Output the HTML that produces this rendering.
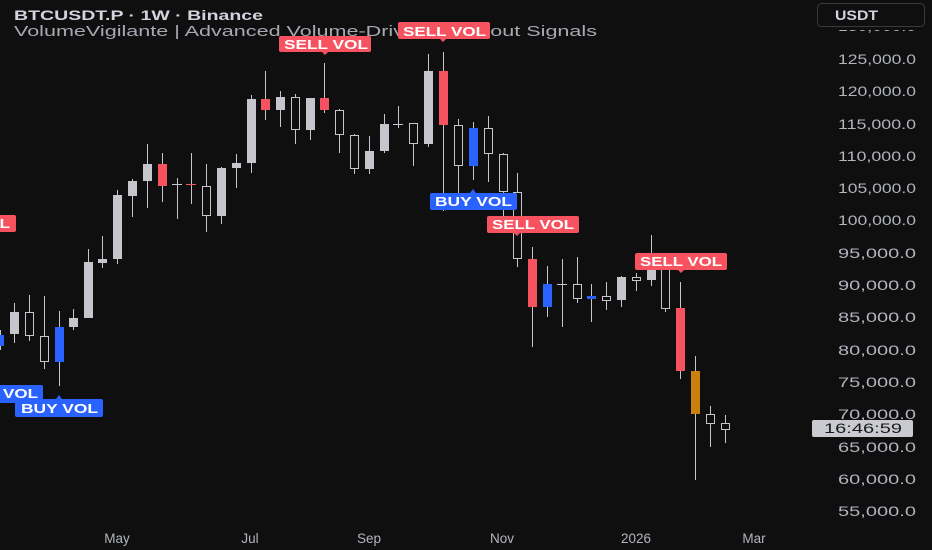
<!DOCTYPE html>
<html><head><meta charset="utf-8"><style>
html,body{margin:0;padding:0;background:#0f0f0f;}
svg{display:block;}
text{font-family:"Liberation Sans",sans-serif;}
</style></head><body>
<svg width="932" height="550" viewBox="0 0 932 550" xmlns="http://www.w3.org/2000/svg">
<rect width="932" height="550" fill="#0f0f0f"/>
<g stroke="#c4c6cb" stroke-width="1" shape-rendering="crispEdges">
<line x1="0.5" y1="330" x2="0.5" y2="350"/>
<line x1="14.5" y1="303" x2="14.5" y2="343"/>
<line x1="29.5" y1="295" x2="29.5" y2="341"/>
<line x1="44.5" y1="296" x2="44.5" y2="369"/>
<line x1="59.5" y1="311" x2="59.5" y2="386"/>
<line x1="73.5" y1="309" x2="73.5" y2="330"/>
<line x1="88.5" y1="249" x2="88.5" y2="318"/>
<line x1="102.5" y1="236" x2="102.5" y2="268"/>
<line x1="117.5" y1="190" x2="117.5" y2="264"/>
<line x1="132.5" y1="179" x2="132.5" y2="217"/>
<line x1="147.5" y1="144" x2="147.5" y2="208"/>
<line x1="162.5" y1="153" x2="162.5" y2="202"/>
<line x1="177.5" y1="178" x2="177.5" y2="219"/>
<line x1="191.5" y1="153" x2="191.5" y2="204"/>
<line x1="206.5" y1="164" x2="206.5" y2="232"/>
<line x1="221.5" y1="167" x2="221.5" y2="224"/>
<line x1="236.5" y1="154" x2="236.5" y2="188"/>
<line x1="251.5" y1="95" x2="251.5" y2="173"/>
<line x1="265.5" y1="71" x2="265.5" y2="120"/>
<line x1="280.5" y1="91" x2="280.5" y2="127"/>
<line x1="295.5" y1="94" x2="295.5" y2="144"/>
<line x1="310.5" y1="98" x2="310.5" y2="140"/>
<line x1="324.5" y1="63" x2="324.5" y2="113"/>
<line x1="339.5" y1="109" x2="339.5" y2="153"/>
<line x1="354.5" y1="134" x2="354.5" y2="174"/>
<line x1="369.5" y1="136" x2="369.5" y2="174"/>
<line x1="384.5" y1="114" x2="384.5" y2="153"/>
<line x1="398.5" y1="106" x2="398.5" y2="128"/>
<line x1="413.5" y1="123" x2="413.5" y2="166"/>
<line x1="428.5" y1="54" x2="428.5" y2="147"/>
<line x1="443.5" y1="52" x2="443.5" y2="211"/>
<line x1="458.5" y1="119" x2="458.5" y2="195"/>
<line x1="473.5" y1="122" x2="473.5" y2="180"/>
<line x1="488.5" y1="116" x2="488.5" y2="182"/>
<line x1="503.5" y1="153" x2="503.5" y2="220"/>
<line x1="517.5" y1="173" x2="517.5" y2="267"/>
<line x1="532.5" y1="247" x2="532.5" y2="347"/>
<line x1="547.5" y1="266" x2="547.5" y2="317"/>
<line x1="562.5" y1="259" x2="562.5" y2="327"/>
<line x1="577.5" y1="257" x2="577.5" y2="303"/>
<line x1="591.5" y1="284" x2="591.5" y2="322"/>
<line x1="606.5" y1="282" x2="606.5" y2="310"/>
<line x1="621.5" y1="276" x2="621.5" y2="307"/>
<line x1="636.5" y1="273" x2="636.5" y2="291"/>
<line x1="651.5" y1="235" x2="651.5" y2="286"/>
<line x1="665.5" y1="263" x2="665.5" y2="312"/>
<line x1="680.5" y1="282" x2="680.5" y2="379"/>
<line x1="695.5" y1="356" x2="695.5" y2="480"/>
<line x1="710.5" y1="406" x2="710.5" y2="447"/>
<line x1="725.5" y1="415" x2="725.5" y2="443"/>
<line x1="172" y1="184.5" x2="182" y2="184.5"/>
<line x1="186" y1="184.5" x2="196" y2="184.5" stroke="#f7525f"/>
<line x1="393" y1="124.5" x2="403" y2="124.5"/>
<line x1="557" y1="284.5" x2="567" y2="284.5"/>
</g>
<g fill="#c4c6cb">
<rect x="10" y="312" width="9" height="22"/>
<rect x="69" y="318" width="9" height="9"/>
<rect x="84" y="262" width="9" height="56"/>
<rect x="98" y="259" width="9" height="4"/>
<rect x="113" y="195" width="9" height="64"/>
<rect x="128" y="181" width="9" height="15"/>
<rect x="143" y="164" width="9" height="17"/>
<rect x="217" y="168" width="9" height="48"/>
<rect x="232" y="163" width="9" height="5"/>
<rect x="247" y="99" width="9" height="64"/>
<rect x="276" y="97" width="9" height="13"/>
<rect x="306" y="98" width="9" height="32"/>
<rect x="365" y="151" width="9" height="18"/>
<rect x="380" y="124" width="9" height="27"/>
<rect x="424" y="71" width="9" height="73"/>
<rect x="617" y="277" width="9" height="23"/>
<rect x="647" y="263" width="9" height="17"/>
</g>
<g fill="#0f0f0f" stroke="#c4c6cb" stroke-width="1">
<rect x="25.5" y="312.5" width="8" height="23"/>
<rect x="40.5" y="336.5" width="8" height="25"/>
<rect x="202.5" y="186.5" width="8" height="29"/>
<rect x="291.5" y="97.5" width="8" height="32"/>
<rect x="335.5" y="110.5" width="8" height="24"/>
<rect x="350.5" y="135.5" width="8" height="33"/>
<rect x="409.5" y="123.5" width="8" height="20"/>
<rect x="454.5" y="125.5" width="8" height="40"/>
<rect x="484.5" y="128.5" width="8" height="25"/>
<rect x="499.5" y="154.5" width="8" height="37"/>
<rect x="513.5" y="192.5" width="8" height="66"/>
<rect x="573.5" y="284.5" width="8" height="14"/>
<rect x="602.5" y="296.5" width="8" height="4"/>
<rect x="632.5" y="277.5" width="8" height="3"/>
<rect x="661.5" y="263.5" width="8" height="45"/>
<rect x="706.5" y="414.5" width="8" height="9"/>
<rect x="721.5" y="423.5" width="8" height="6"/>
</g>
<g fill="#f7525f">
<rect x="158" y="164" width="9" height="22"/>
<rect x="261" y="99" width="9" height="11"/>
<rect x="320" y="98" width="9" height="12"/>
<rect x="439" y="71" width="9" height="54"/>
<rect x="528" y="259" width="9" height="48"/>
<rect x="676" y="308" width="9" height="63"/>
</g>
<g fill="#2962ff">
<rect x="-4" y="335" width="8" height="11"/>
<rect x="55" y="327" width="9" height="35"/>
<rect x="469" y="128" width="9" height="38"/>
<rect x="543" y="284" width="9" height="23"/>
<rect x="587" y="296" width="9" height="3"/>
</g>
<rect x="691" y="371" width="9" height="43" fill="#c8800e"/>

<text x="14" y="20" font-size="14" font-weight="bold" fill="#d1d4dc" textLength="249" lengthAdjust="spacingAndGlyphs">BTCUSDT.P · 1W · Binance</text>
<text x="14" y="36" font-size="14.5" fill="#a6a9b1" textLength="583" lengthAdjust="spacingAndGlyphs">VolumeVigilante | Advanced Volume-Driven Breakout Signals</text>

<g font-size="12.5" font-weight="bold" fill="#fff">
<path d="M281 36h88a2 2 0 0 1 2 2v12a2 2 0 0 1-2 2h-41l-3 3-3-3h-41a2 2 0 0 1-2-2v-12a2 2 0 0 1 2-2z" fill="#f7525f"/>
<text x="284" y="49" textLength="84" lengthAdjust="spacingAndGlyphs">SELL VOL</text>
<path d="M400 22h88a2 2 0 0 1 2 2v13a2 2 0 0 1-2 2h-42l-3 3-3-3h-40a2 2 0 0 1-2-2v-13a2 2 0 0 1 2-2z" fill="#f7525f"/>
<text x="403" y="36" textLength="83" lengthAdjust="spacingAndGlyphs">SELL VOL</text>
<path d="M-10 215h24a2 2 0 0 1 2 2v13a2 2 0 0 1-2 2h-24z" fill="#f7525f"/>
<text x="-74" y="228" textLength="84" lengthAdjust="spacingAndGlyphs">SELL VOL</text>
<path d="M432 193h83a2 2 0 0 1 2 2v13a2 2 0 0 1-2 2h-83a2 2 0 0 1-2-2v-13a2 2 0 0 1 2-2h38l3-4 3 4z" fill="#2962ff"/>
<text x="435" y="206" textLength="77" lengthAdjust="spacingAndGlyphs">BUY VOL</text>
<path d="M489 216h88a2 2 0 0 1 2 2v13a2 2 0 0 1-2 2h-57l-3 3-3-3h-25a2 2 0 0 1-2-2v-13a2 2 0 0 1 2-2z" fill="#f7525f"/>
<text x="492" y="229" textLength="82" lengthAdjust="spacingAndGlyphs">SELL VOL</text>
<path d="M637 253h88a2 2 0 0 1 2 2v13a2 2 0 0 1-2 2h-41l-3 3-3-3h-41a2 2 0 0 1-2-2v-13a2 2 0 0 1 2-2z" fill="#f7525f"/>
<text x="640" y="266" textLength="82" lengthAdjust="spacingAndGlyphs">SELL VOL</text>
<path d="M-10 385h51a2 2 0 0 1 2 2v14a2 2 0 0 1-2 2h-51z" fill="#2962ff"/>
<text x="3" y="398" textLength="35" lengthAdjust="spacingAndGlyphs">VOL</text>
<path d="M17 399h84a2 2 0 0 1 2 2v14a2 2 0 0 1-2 2h-84a2 2 0 0 1-2-2v-14a2 2 0 0 1 2-2h39l3-4 3 4z" fill="#2962ff"/>
<text x="21" y="413" textLength="77" lengthAdjust="spacingAndGlyphs">BUY VOL</text>
</g>

<g font-size="13.5" fill="#b2b5be" text-anchor="end">
<text x="916" y="31" textLength="78" lengthAdjust="spacingAndGlyphs">130,000.0</text>
<text x="916" y="64" textLength="78" lengthAdjust="spacingAndGlyphs">125,000.0</text>
<text x="916" y="96" textLength="78" lengthAdjust="spacingAndGlyphs">120,000.0</text>
<text x="916" y="129" textLength="78" lengthAdjust="spacingAndGlyphs">115,000.0</text>
<text x="916" y="161" textLength="78" lengthAdjust="spacingAndGlyphs">110,000.0</text>
<text x="916" y="193" textLength="78" lengthAdjust="spacingAndGlyphs">105,000.0</text>
<text x="916" y="225" textLength="78" lengthAdjust="spacingAndGlyphs">100,000.0</text>
<text x="916" y="258" textLength="78" lengthAdjust="spacingAndGlyphs">95,000.0</text>
<text x="916" y="290" textLength="78" lengthAdjust="spacingAndGlyphs">90,000.0</text>
<text x="916" y="322" textLength="78" lengthAdjust="spacingAndGlyphs">85,000.0</text>
<text x="916" y="355" textLength="78" lengthAdjust="spacingAndGlyphs">80,000.0</text>
<text x="916" y="387" textLength="78" lengthAdjust="spacingAndGlyphs">75,000.0</text>
<text x="916" y="419" textLength="78" lengthAdjust="spacingAndGlyphs">70,000.0</text>
<text x="916" y="452" textLength="78" lengthAdjust="spacingAndGlyphs">65,000.0</text>
<text x="916" y="484" textLength="78" lengthAdjust="spacingAndGlyphs">60,000.0</text>
<text x="916" y="516" textLength="78" lengthAdjust="spacingAndGlyphs">55,000.0</text>
</g>
<rect x="812" y="420" width="101" height="17" rx="2" fill="#c9cbd0"/>
<text x="902" y="433" font-size="13.5" fill="#1a1a1a" text-anchor="end" textLength="78" lengthAdjust="spacingAndGlyphs">16:46:59</text>

<rect x="805" y="0" width="127" height="30" fill="#0f0f0f"/>
<rect x="817.5" y="3.5" width="107" height="23" rx="4" fill="#0f0f0f" stroke="#3a3b3e"/>
<text x="835" y="20" font-size="13.5" font-weight="bold" fill="#d1d4dc" textLength="43" lengthAdjust="spacingAndGlyphs">USDT</text>

<g font-size="13.5" fill="#b2b5be" text-anchor="middle">
<text x="117" y="543">May</text>
<text x="250" y="543">Jul</text>
<text x="369" y="543">Sep</text>
<text x="502" y="543">Nov</text>
<text x="636" y="543">2026</text>
<text x="754" y="543">Mar</text>
</g>
</svg>
</body></html>
